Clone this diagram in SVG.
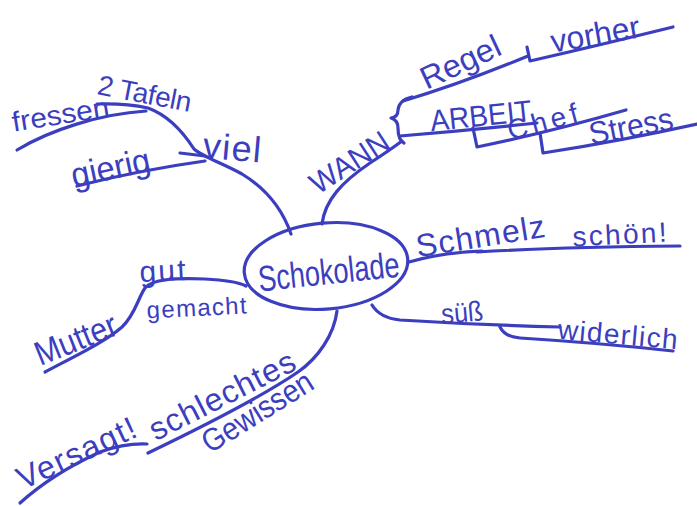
<svg xmlns="http://www.w3.org/2000/svg" width="697" height="506" viewBox="0 0 697 506">
<style>
.ln{fill:none;stroke:#3b3ebe;stroke-width:3.2;stroke-linecap:round;stroke-linejoin:round}
.t{font-family:"Liberation Sans","DejaVu Sans",sans-serif;fill:#3b3ebe;text-anchor:middle}
</style>
<rect width="697" height="506" fill="#ffffff"/>
<g id="connectors">
<path class="ln" d="M291,234 C282,208 265,188 242,174 C222,163 203,157 194,149 C185,135 170,116 148,108 Q125,103 97,104"/>
<path class="ln" d="M17,150 C50,130 100,114 146,111"/>
<path class="ln" d="M77,186 Q140,170 205,161"/>
<path class="ln" d="M180,153 L205,156"/>
<path class="ln" d="M322,224 C325,200 342,182 370,163 Q390,150 402,141"/>
<path class="ln" d="M412,97 Q399,100 398,110 Q398,117 391,118 Q398,120 398,128 Q398,140 404,143"/>
<path class="ln" d="M403,101 C430,93 475,78 528,56"/>
<path class="ln" d="M527,47 L530,61 Q600,45 673,27"/>
<path class="ln" d="M400,136 Q470,130 537,123"/>
<path class="ln" d="M473,128 L477,147 Q550,132 626,110"/>
<path class="ln" d="M540,133 L543,153 Q620,141 697,124"/>
<path class="ln" d="M409,262 C430,256 455,252 482,251"/>
<path class="ln" d="M477,252 Q560,247 680,246"/>
<path class="ln" d="M372,305 Q380,318 400,320 Q480,325 560,327"/>
<path class="ln" d="M500,327 Q505,337 520,338 Q600,343 673,351"/>
<path class="ln" d="M246,286 C238,282 225,280 205,279 C175,278 152,279 145,288 C138,298 135,315 122,327 C105,342 75,356 45,372"/>
<path class="ln" d="M337,311 C334,335 318,358 298,372 C260,398 200,428 148,453"/>
<path class="ln" d="M20,503 C40,485 65,468 100,452 Q125,443 147,444"/>
</g>
<g id="node-schokolade">
<ellipse class="ln" cx="326" cy="266" rx="82" ry="43" transform="rotate(-5 326 266)"/>
<text class="t" font-size="36" transform="translate(330,284) rotate(-6)" textLength="142" lengthAdjust="spacingAndGlyphs">Schokolade</text>
</g>
<g id="node-fressen"><text class="t" font-size="28" transform="translate(62,124) rotate(-9)" textLength="98" lengthAdjust="spacingAndGlyphs">fressen</text></g>
<g id="node-tafeln"><text class="t" font-size="28" transform="translate(143,103) rotate(11)" textLength="95" lengthAdjust="spacing">2 Tafeln</text></g>
<g id="node-viel"><text class="t" font-size="36" transform="translate(231,160) rotate(5)" textLength="58" lengthAdjust="spacing">viel</text></g>
<g id="node-gierig"><text class="t" font-size="34" transform="translate(113,179) rotate(-12)" textLength="80" lengthAdjust="spacingAndGlyphs">gierig</text></g>
<g id="node-wann"><text class="t" font-size="30" transform="translate(355,171) rotate(-33)" textLength="88" lengthAdjust="spacingAndGlyphs">WANN</text></g>
<g id="node-regel"><text class="t" font-size="32" transform="translate(465,72) rotate(-25)" textLength="85" lengthAdjust="spacingAndGlyphs">Regel</text></g>
<g id="node-vorher"><text class="t" font-size="32" transform="translate(597,45) rotate(-10)" textLength="90" lengthAdjust="spacingAndGlyphs">vorher</text></g>
<g id="node-arbeit"><text class="t" font-size="30" transform="translate(482,126) rotate(-6)" textLength="102" lengthAdjust="spacingAndGlyphs">ARBEIT</text></g>
<g id="node-chef"><text class="t" font-size="28" transform="translate(545,131) rotate(-15)" textLength="72" lengthAdjust="spacing">Chef</text></g>
<g id="node-stress"><text class="t" font-size="32" transform="translate(633,137) rotate(-11)" textLength="85" lengthAdjust="spacingAndGlyphs">Stress</text></g>
<g id="node-schmelz"><text class="t" font-size="32" transform="translate(482,247) rotate(-9)" textLength="130" lengthAdjust="spacing">Schmelz</text></g>
<g id="node-schoen"><text class="t" font-size="28" transform="translate(620,244) rotate(-3)" textLength="94" lengthAdjust="spacing">schön!</text></g>
<g id="node-suess"><text class="t" font-size="28" transform="translate(463,322) rotate(-5)" textLength="42" lengthAdjust="spacingAndGlyphs">süß</text></g>
<g id="node-widerlich"><text class="t" font-size="28" transform="translate(617,344) rotate(5)" textLength="120" lengthAdjust="spacing">widerlich</text></g>
<g id="node-gut"><text class="t" font-size="30" transform="translate(163,281) rotate(-3)" textLength="46" lengthAdjust="spacing">gut</text></g>
<g id="node-gemacht"><text class="t" font-size="24" transform="translate(197,316) rotate(-3)" textLength="100" lengthAdjust="spacing">gemacht</text></g>
<g id="node-mutter"><text class="t" font-size="34" transform="translate(80,350) rotate(-22)" textLength="86" lengthAdjust="spacingAndGlyphs">Mutter</text></g>
<g id="node-versagt"><text class="t" font-size="32" transform="translate(81,463) rotate(-25)" textLength="128" lengthAdjust="spacing">Versagt!</text></g>
<g id="node-schlechtes"><text class="t" font-size="32" transform="translate(227,405) rotate(-27)" textLength="160" lengthAdjust="spacing">schlechtes</text></g>
<g id="node-gewissen"><text class="t" font-size="32" transform="translate(263,421) rotate(-32)" textLength="125" lengthAdjust="spacingAndGlyphs">Gewissen</text></g>
</svg>
